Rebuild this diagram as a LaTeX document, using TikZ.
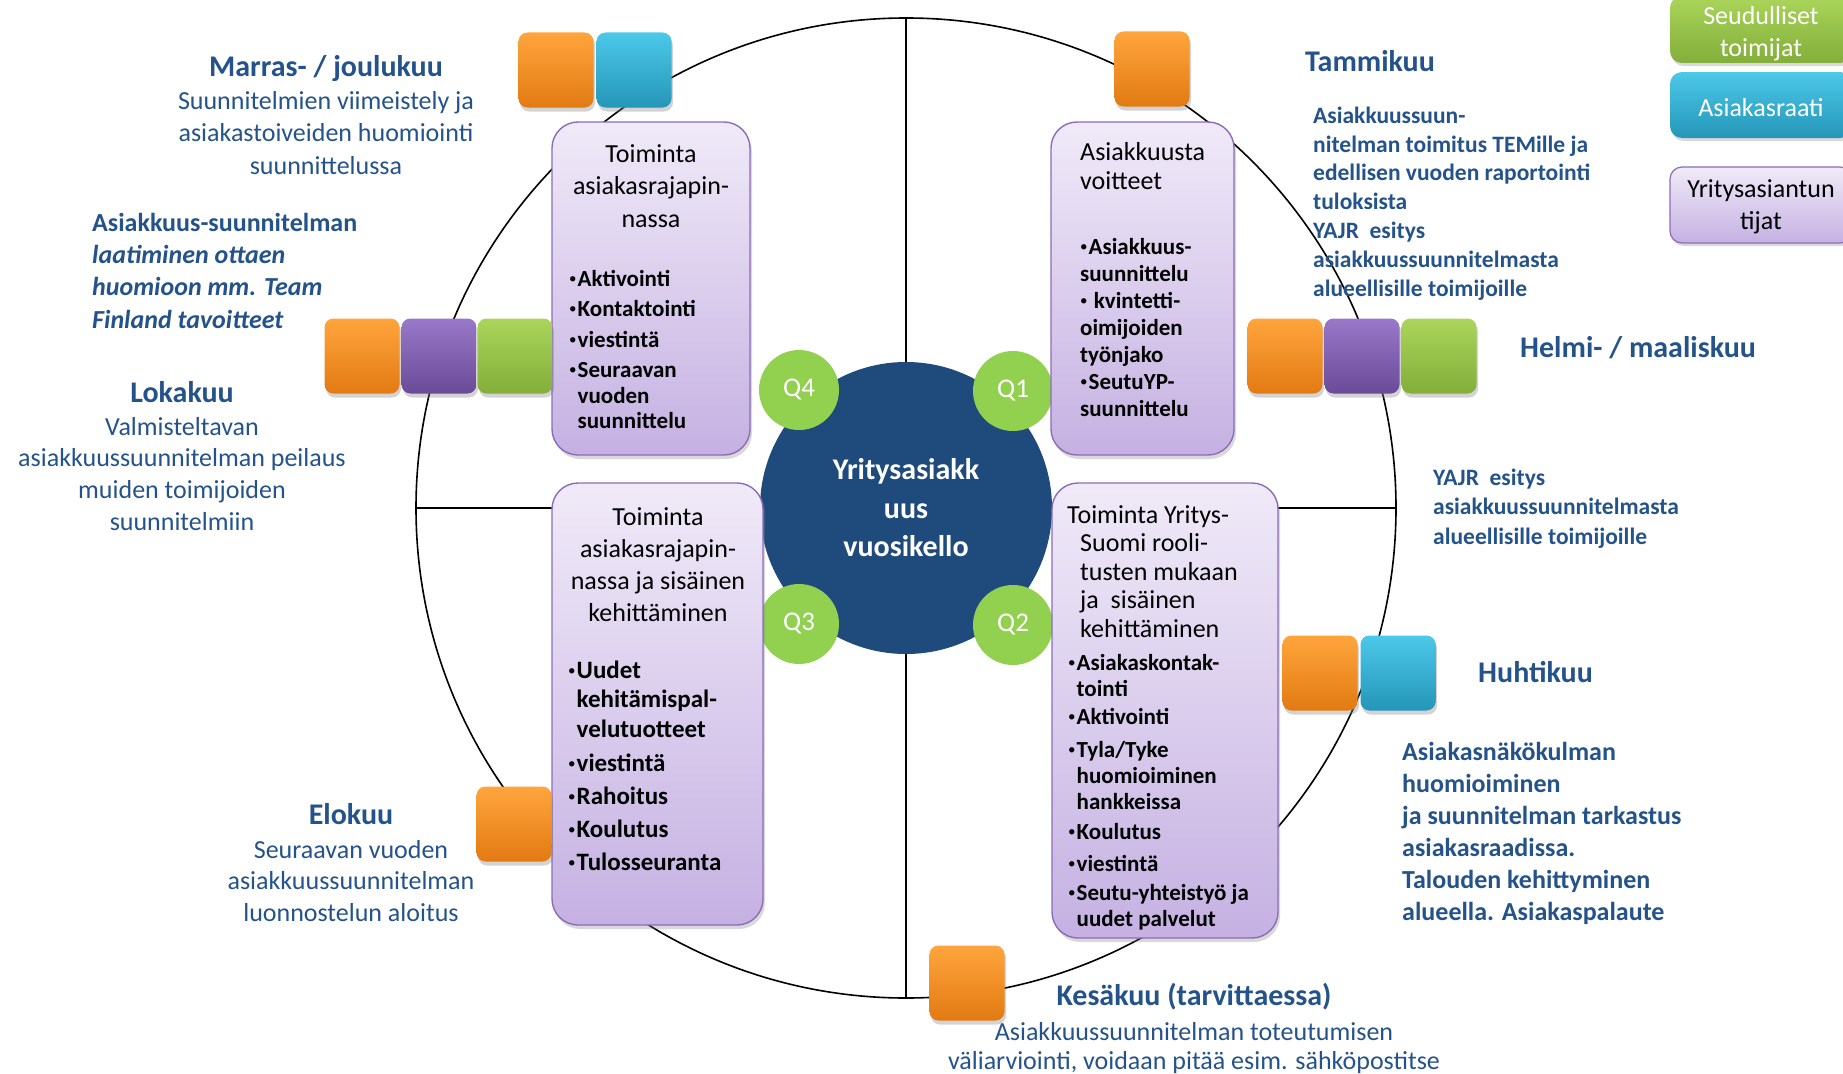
\documentclass[tikz,border=0pt]{standalone}
\usepackage{fontspec}
\setmainfont{Carlito}
\usetikzlibrary{shadows}
\definecolor{orT}{HTML}{FFA53D}
\definecolor{orB}{HTML}{E27A12}
\definecolor{puT}{HTML}{9878C8}
\definecolor{puB}{HTML}{6A4B98}
\definecolor{grT}{HTML}{ABD55A}
\definecolor{grB}{HTML}{82AE3A}
\definecolor{cyT}{HTML}{4CC8E8}
\definecolor{cyB}{HTML}{2596B8}
\definecolor{lavT}{HTML}{F0EAF8}
\definecolor{lavB}{HTML}{C5B1E2}
\definecolor{lavD}{HTML}{8A6DB8}
\definecolor{qgreen}{HTML}{92D050}
\definecolor{hubblue}{HTML}{1F4A7C}
\definecolor{txtblue}{HTML}{24528A}
\newcommand{\mystrut}{\rule{0pt}{0.8em}}
\newcommand{\bul}{\raisebox{0.12em}{\fontsize{15}{15}\selectfont\mdseries •}\hspace{1pt}}
\tikzset{
  ring/.style={draw=black, line width=1.6pt},
  sq/.style={rounded corners=9pt, minimum width=75pt, minimum height=75pt, inner sep=0pt,
    drop shadow={opacity=0.35, shadow xshift=1.5pt, shadow yshift=-4pt}},
  sqo/.style={sq, top color=orT, bottom color=orB},
  sqp/.style={sq, top color=puT, bottom color=puB},
  sqg/.style={sq, top color=grT, bottom color=grB},
  sqc/.style={sq, top color=cyT, bottom color=cyB},
  qbox/.style={rounded corners=26pt, draw=lavD, line width=1.4pt, top color=lavT, bottom color=lavB,
    inner sep=0pt, drop shadow={opacity=0.3, shadow xshift=2pt, shadow yshift=-4pt}},
  legbox/.style={rounded corners=12pt, minimum width=182pt, inner sep=0pt,
    drop shadow={opacity=0.3, shadow xshift=1.5pt, shadow yshift=-3pt}},
  hub/.style={circle, fill=hubblue, minimum size=292pt, inner sep=0pt, text=white, align=center,
    font=\fontsize{30}{38.5}\selectfont\bfseries},
  qc/.style={circle, fill=qgreen, minimum size=80pt, inner sep=0pt, text=white,
    font=\fontsize{27}{30}\selectfont},
  intxt/.style={inner sep=0pt, text=black},
  mtitle/.style={inner sep=0pt, text=txtblue, font=\fontsize{30}{36}\selectfont\bfseries},
  mdesc/.style={inner sep=0pt, text=txtblue},
  legtxt/.style={inner sep=0pt, align=center, font=\fontsize{26}{32}\selectfont},
}
\begin{document}
\begin{tikzpicture}[x=1pt,y=-1pt]
\useasboundingbox (0,0) rectangle (1843,1073);
% clock ring and cross
\coordinate (cc) at (906,508);
\coordinate (ctop) at (906,18);
\coordinate (cbot) at (906,998);
\coordinate (cleft) at (416,508);
\coordinate (cright) at (1396,508);
\draw[ring] (cc) circle [radius=490];
\draw[ring] (ctop) -- (cbot);
\draw[ring] (cleft) -- (cright);

% hub and quarter labels
\node[hub] (hub) at (cc) {Yritysasiakk\\uus\\vuosikello};
\node[qc] (q4) at (799,390) {Q4};
\node[qc] (q1) at (1013,391) {Q1};
\node[qc] (q3) at (799,624) {Q3};
\node[qc] (q2) at (1013,625) {Q2};

% quarter boxes
\node[qbox, minimum width=198pt, minimum height=333pt] (b4) at (651,288.5) {};
\node[qbox, minimum width=183pt, minimum height=333pt] (b1) at (1142.5,288.5) {};
\node[qbox, minimum width=211pt, minimum height=442pt] (b3) at (657.5,704) {};
\node[qbox, minimum width=226pt, minimum height=455pt] (b2) at (1165,710.5) {};

% box texts
\node[intxt, anchor=north, align=center, font=\fontsize{26}{32.5}\selectfont] (t4) at (651,141.2)
  {\mystrut Toiminta\\asiakasrajapin-\\nassa};
\node[intxt, anchor=north west, align=left, font=\fontsize{23}{25.5}\selectfont\bfseries] (i4) at (569,267.6)
  {\mystrut\bul Aktivointi\\[5pt]\bul Kontaktointi\\[5pt]\bul viestintä\\[5pt]\bul Seuraavan\\\phantom{\bul}vuoden\\\phantom{\bul}suunnittelu};

\node[intxt, anchor=north west, align=left, font=\fontsize{26}{29}\selectfont] (t1) at (1080,139.2)
  {\mystrut Asiakkuusta\\voitteet};
\node[intxt, anchor=north west, align=left, font=\fontsize{23}{27}\selectfont\bfseries] (i1) at (1080,235.6)
  {\mystrut\bul Asiakkuus-\\suunnittelu\\\bul\ kvintetti-\\oimijoiden\\työnjako\\\bul SeutuYP-\\suunnittelu};

\node[intxt, anchor=north, align=center, font=\fontsize{26}{32}\selectfont] (t3) at (658,504.2)
  {\mystrut Toiminta\\asiakasrajapin-\\nassa ja sisäinen\\kehittäminen};
\node[intxt, anchor=north west, align=left, font=\fontsize{25}{29.5}\selectfont\bfseries] (i3) at (568,658)
  {\mystrut\bul Uudet\\\phantom{\bul}kehitämispal-\\\phantom{\bul}velutuotteet\\[5pt]\bul viestintä\\[3pt]\bul Rahoitus\\[4pt]\bul Koulutus\\[3pt]\bul Tulosseuranta};

\node[intxt, anchor=north west, align=left, font=\fontsize{26}{28.5}\selectfont] (t2) at (1067,502.2)
  {\mystrut Toiminta Yritys-\\\hspace*{13pt}Suomi rooli-\\\hspace*{13pt}tusten mukaan\\\hspace*{13pt}ja\ \ sisäinen\\\hspace*{13pt}kehittäminen};
\node[intxt, anchor=north west, align=left, font=\fontsize{23}{26}\selectfont\bfseries] (i2) at (1068,651.4)
  {\mystrut\bul Asiakaskontak-\\\phantom{\bul}tointi\\[2pt]\bul Aktivointi\\[7pt]\bul Tyla/Tyke\\\phantom{\bul}huomioiminen\\\phantom{\bul}hankkeissa\\[4pt]\bul Koulutus\\[6pt]\bul viestintä\\[3pt]\bul Seutu-yhteistyö ja\\\phantom{\bul}uudet palvelut};

% month squares
\node[sqo] (sa1) at (556,70) {};
\node[sqc] (sa2) at (634,70) {};
\node[sqo] (sb1) at (1152,69) {};
\node[sqo] (sc1) at (362,356) {};
\node[sqp] (sc2) at (439,356) {};
\node[sqg] (sc3) at (515,356) {};
\node[sqo] (sd1) at (1285,356) {};
\node[sqp] (sd2) at (1362,356) {};
\node[sqg] (sd3) at (1439,356) {};
\node[sqo] (se1) at (1320,673) {};
\node[sqc] (se2) at (1398,673) {};
\node[sqo] (sf1) at (514,824) {};
\node[sqo] (sg1) at (967,983) {};

% legend
\node[legbox, minimum height=67pt, top color=grT, bottom color=grB] (lg) at (1761,29.5) {};
\node[legtxt, text=white] (lgt) at (1761,34) {Seudulliset\\toimijat};
\node[legbox, minimum height=66pt, top color=cyT, bottom color=cyB] (lc) at (1761,105) {};
\node[legtxt, text=white] (lct) at (1761,108) {Asiakasraati};
\node[legbox, minimum height=76pt, draw=lavD, line width=1.2pt, top color=lavT, bottom color=lavB] (lp) at (1761,205) {};
\node[legtxt, text=black] (lpt) at (1761,207) {Yritysasiantun\\tijat};

% month texts
\node[mtitle, anchor=base] (m11) at (326,77) {Marras- / joulukuu};
\node[mdesc, anchor=north, align=center, font=\fontsize{26}{32.5}\selectfont] (m11d) at (326,88.2)
  {\mystrut Suunnitelmien viimeistely ja\\asiakastoiveiden huomiointi\\suunnittelussa};
\node[mdesc, anchor=north west, align=left, font=\fontsize{26}{32.3}\selectfont\bfseries] (tf) at (92,210.2)
  {\mystrut Asiakkuus-suunnitelman\\\textit{laatiminen ottaen}\\\textit{huomioon mm. Team}\\\textit{Finland tavoitteet}};
\node[mtitle, anchor=base] (m10) at (182,402) {Lokakuu};
\node[mdesc, anchor=north, align=center, font=\fontsize{26}{31.7}\selectfont] (m10d) at (182,414.2)
  {\mystrut Valmisteltavan\\asiakkuussuunnitelman peilaus\\muiden toimijoiden\\suunnitelmiin};
\node[mtitle, anchor=base] (m8) at (351,824) {Elokuu};
\node[mdesc, anchor=north, align=center, font=\fontsize{26}{31.5}\selectfont] (m8d) at (351,837.2)
  {\mystrut Seuraavan vuoden\\asiakkuussuunnitelman\\luonnostelun aloitus};
\node[mtitle, anchor=base] (m1) at (1370,71) {Tammikuu};
\node[mdesc, anchor=north west, align=left, font=\fontsize{23.5}{28.8}\selectfont\bfseries] (m1d) at (1313,104.2)
  {\mystrut Asiakkuussuun-\\nitelman toimitus TEMille ja\\edellisen vuoden raportointi\\tuloksista\\YAJR\ \ esitys\\asiakkuussuunnitelmasta\\alueellisille toimijoille};
\node[mtitle, anchor=base west] (m2) at (1520,357) {Helmi- / maaliskuu};
\node[mdesc, anchor=north west, align=left, font=\fontsize{23.5}{29.5}\selectfont\bfseries] (m2d) at (1433,466.2)
  {\mystrut YAJR\ \ esitys\\asiakkuussuunnitelmasta\\alueellisille toimijoille};
\node[mtitle, anchor=base west] (m4) at (1478,682) {Huhtikuu};
\node[mdesc, anchor=north west, align=left, font=\fontsize{26}{32}\selectfont\bfseries] (m4d) at (1402,739.2)
  {\mystrut Asiakasnäkökulman\\huomioiminen\\ja suunnitelman tarkastus\\asiakasraadissa.\\Talouden kehittyminen\\alueella. Asiakaspalaute};
\node[mtitle, anchor=base] (m6) at (1194,1005) {Kesäkuu (tarvittaessa)};
\node[mdesc, anchor=north, align=center, font=\fontsize{26}{29.5}\selectfont] (m6d) at (1194,1019.2)
  {\mystrut Asiakkuussuunnitelman toteutumisen\\väliarviointi, voidaan pitää esim. sähköpostitse};
\end{tikzpicture}
\end{document}
